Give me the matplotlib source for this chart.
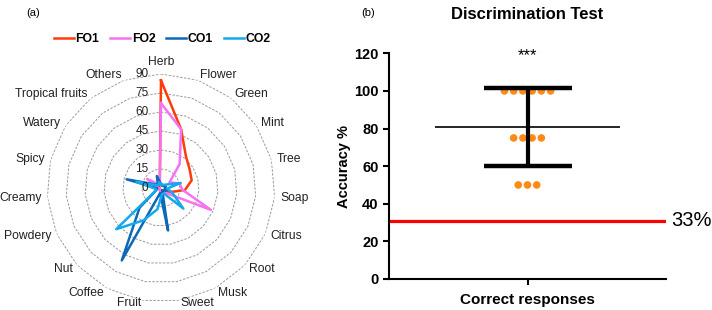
import numpy as np
import matplotlib
matplotlib.use("Agg")
import matplotlib.pyplot as plt
import matplotlib.transforms as mtransforms

plt.rcParams['font.family'] = ['Liberation Sans', 'DejaVu Sans']

# ---- (a) odour descriptor radar ----
descriptors = ["Herb", "Flower", "Green", "Mint", "Tree", "Soap", "Citrus", "Root",
               "Musk", "Sweet", "Fruit", "Coffee", "Nut", "Powdery", "Creamy",
               "Spicy", "Watery", "Tropical fruits", "Others"]
fo1 = [85, 49, 32, 27, 25, 19, 8, 3, 2, 2, 2, 2, 1, 1, 1, 2, 2, 2, 3]
fo2 = [67, 49, 24, 8, 15, 17, 43, 6, 3, 8, 3, 2, 1, 1, 2, 3, 13, 4, 3]
co1 = [3, 2, 2, 3, 4, 3, 5, 3, 2, 34, 4, 65, 23, 4, 3, 28, 5, 4, 10]
co2 = [3, 3, 3, 5, 16, 5, 10, 24, 5, 5, 17, 29, 48, 4, 5, 20, 4, 3, 5]
ring_ticks = [0, 15, 30, 45, 60, 75, 90]

series = [("FO1", fo1, "#FF3B0A"), ("FO2", fo2, "#F572F2"),
          ("CO1", co1, "#0E68B8"), ("CO2", co2, "#14A8EC")]

# ---- (b) discrimination test ----
accuracy = [100, 100, 100, 100, 100, 100, 75, 75, 75, 75, 50, 50, 50]
chance_level = 31
chance_label = "33%"

fig = plt.figure(figsize=(7.12, 3.1), dpi=100)

ax = fig.add_axes([0.066, 0.0258, 0.3202, 0.7355], projection="polar")
ax.set_theta_offset(np.pi / 2)
ax.set_theta_direction(-1)
ax.set_ylim(0, 90)
ax.grid(False)
ax.set_xticks([])
ax.set_yticks([])
ax.spines["polar"].set_visible(False)

angles = np.arange(len(descriptors)) * 2 * np.pi / len(descriptors)
closed = np.append(angles, angles[0])

# dashed polygon rings
for r in ring_ticks[1:]:
    ax.plot(closed, [r] * len(closed), color="#9a9a9a", lw=0.7, ls=(0, (2.5, 1.5)), zorder=1)

for name, vals, col in series:
    ax.plot(closed, vals + vals[:1], color=col, lw=1.8, label=name, zorder=3)

# ring value labels along the Herb axis
off = mtransforms.offset_copy(ax.transData, fig=fig, x=-9, y=0, units="points")
for r in ring_ticks:
    ax.text(0, r, str(r), transform=off, ha="right", va="center", fontsize=8.5, color="#222222")

# descriptor labels
for a, lab in zip(angles, descriptors):
    s = np.sin(a)
    if s > 0.05:
        ha = "left"
    elif s < -0.05:
        ha = "right"
    else:
        ha = "center"
    va = "bottom" if np.cos(a) > 0.99 else "center"
    rr = 92.3 if np.cos(a) < -0.95 else 94.5
    ax.text(a, rr, lab, ha=ha, va=va, fontsize=8.7, color="#222222")

fig.legend(*ax.get_legend_handles_labels(), loc="center", bbox_to_anchor=(0.228, 0.873),
           ncol=4, frameon=False, handlelength=1.6, handletextpad=0.15, columnspacing=0.9,
           prop={"weight": "bold", "size": 8.8})
fig.text(0.046, 0.975, "(a)", fontsize=8, va="top", ha="center")

# ---- right panel ----
bx = fig.add_axes([0.5464, 0.1, 0.389, 0.728])
bx.set_xlim(-1.5, 1.5)
bx.set_ylim(0, 120)

acc = np.array(accuracy, dtype=float)
for v in np.unique(acc):
    n = int((acc == v).sum())
    xs = (np.arange(n) - (n - 1) / 2) * 0.1
    bx.scatter(xs, [v] * n, s=30, color="#FF8A14", edgecolors="none", zorder=2)

m = acc.mean()
sd = acc.std(ddof=1)
bx.hlines(m, -1.0, 1.0, color="black", lw=1.2, zorder=3)
bx.errorbar([0], [m], yerr=[sd], fmt="none", ecolor="black", elinewidth=3,
            capsize=32, capthick=3.2, zorder=4)

bx.axhline(chance_level, color="#FF0000", lw=2.3, zorder=1)
bx.text(1.02, chance_level, chance_label, transform=bx.get_yaxis_transform(),
        ha="left", va="center", fontsize=14.5)
bx.text(0, 119, "***", ha="center", va="center", fontsize=12)

bx.spines["top"].set_visible(False)
bx.spines["right"].set_visible(False)
bx.spines["left"].set_linewidth(1.5)
bx.spines["bottom"].set_linewidth(1.5)
bx.set_yticks(np.arange(0, 121, 20))
bx.set_xticks([0])
bx.set_xticklabels(["Correct responses"])
bx.tick_params(axis="both", width=1.5, length=4, labelsize=10.5)
bx.tick_params(axis="x", labelsize=11, pad=6)
for t in bx.get_xticklabels() + bx.get_yticklabels():
    t.set_fontweight("bold")
bx.set_ylabel("Accuracy %", fontsize=10.5, fontweight="bold")
bx.yaxis.set_label_coords(-0.137, 0.5)
bx.set_title("Discrimination Test", fontsize=12, fontweight="bold", pad=25)
fig.text(0.508, 0.975, "(b)", fontsize=8, va="top", ha="left")

fig.savefig("out.png", dpi=100)
